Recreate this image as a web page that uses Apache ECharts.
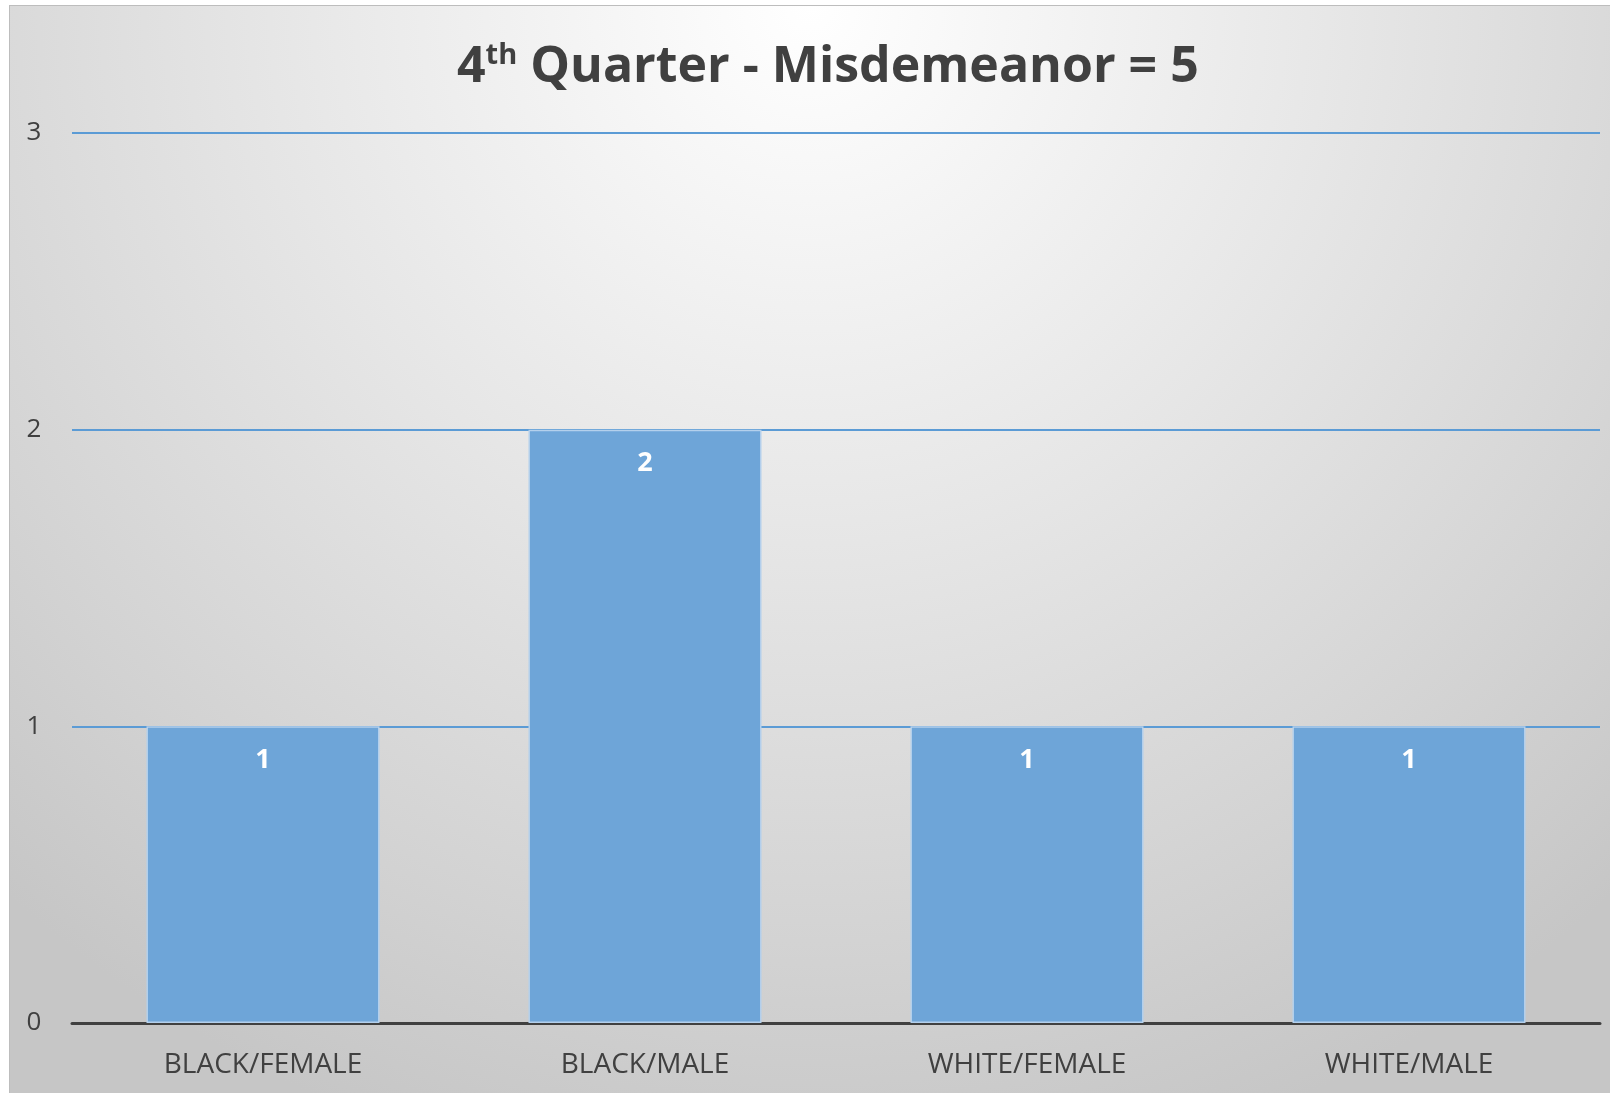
<!DOCTYPE html>
<html><head><meta charset="utf-8">
<script src="https://cdn.jsdelivr.net/npm/echarts@6/dist/echarts.min.js"></script>
<style>
html,body{margin:0;padding:0;background:#fff;}
#bg{position:absolute;left:9px;top:5px;width:1601px;height:1088px;border-left:1px solid #bdbdbd;border-top:1px solid #bdbdbd;box-sizing:border-box;
background:radial-gradient(ellipse 75% 110% at 50% 0%, #ffffff 0%, #e6e6e6 45%, #d2d2d2 80%, #c6c6c6 100%);}
#chart{position:absolute;left:0;top:0;width:1610px;height:1093px;}
</style></head>
<body>
<div id="bg"></div>
<div id="chart"></div>
<script>
const categories = ['BLACK/FEMALE', 'BLACK/MALE', 'WHITE/FEMALE', 'WHITE/MALE'];
const values = [1, 2, 1, 1];
const yTicks = [0, 1, 2, 3];

const chart = echarts.init(document.getElementById('chart'), null, {renderer: 'canvas'});
chart.setOption({
  backgroundColor: 'transparent',
  animation: false,
  title: {
    text: '{n|4}{s|th}{n| Quarter - Misdemeanor = 5}',
    left: 452,
    top: 36,
    textStyle: {
      rich: {
        n: {fontFamily: 'Open Sans', fontWeight: 'bold', fontSize: 50, color: '#404040'},
        s: {fontFamily: 'Open Sans', fontWeight: 'bold', fontSize: 29, color: '#404040', verticalAlign: 'top', padding: [0, 0, 24, 0]}
      }
    }
  },
  grid: {left: 72, right: 10, top: 133, bottom: 70, containLabel: false},
  xAxis: {
    type: 'category',
    data: categories,
    axisLine: {lineStyle: {color: '#404040', width: 3}},
    axisTick: {show: false},
    axisLabel: {fontFamily: 'Open Sans', fontSize: 28, color: '#404040', margin: 28}
  },
  yAxis: {
    type: 'value',
    min: yTicks[0],
    max: yTicks[yTicks.length - 1],
    interval: 1,
    axisLine: {show: false},
    axisTick: {show: false},
    axisLabel: {fontFamily: 'Open Sans', fontSize: 26, color: '#404040', margin: 38, align: 'center'},
    splitLine: {lineStyle: {color: '#5b9bd5', width: 2}}
  },
  series: [{
    type: 'bar',
    data: values,
    barCategoryGap: '39%',
    itemStyle: {color: '#6ea5d8', borderColor: '#b4d0ec', borderWidth: 1.5},
    label: {
      show: true,
      position: 'insideTop',
      distance: 20,
      fontFamily: 'Open Sans',
      fontWeight: 'bold',
      fontSize: 27,
      color: '#ffffff'
    }
  }]
});
</script>
</body></html>
